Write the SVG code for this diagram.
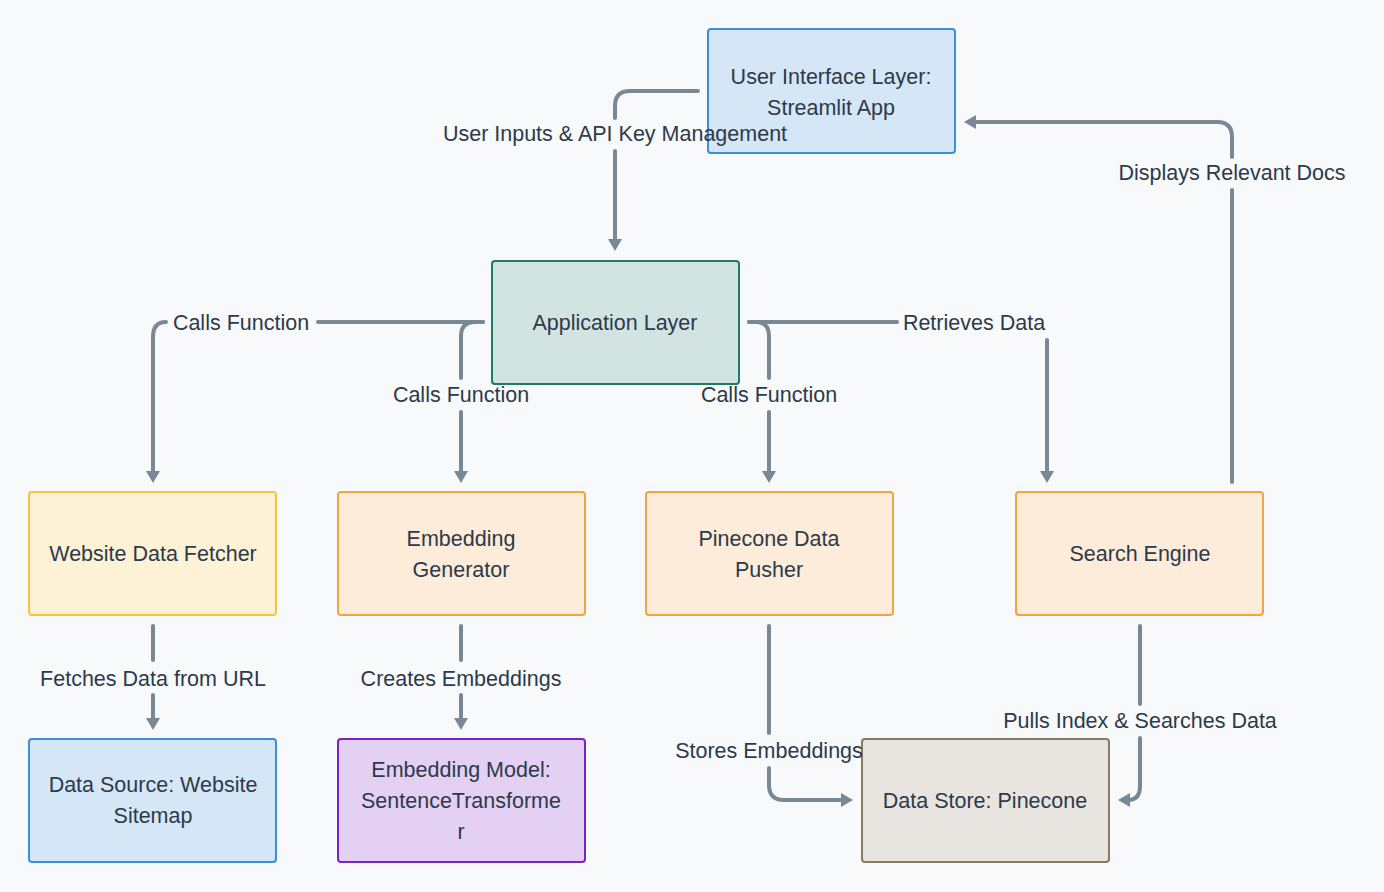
<svg xmlns="http://www.w3.org/2000/svg" width="1384" height="892" viewBox="0 0 1384 892">
<defs>
<marker id="arr" markerUnits="userSpaceOnUse" markerWidth="14" markerHeight="14" viewBox="0 0 12 14" refX="4" refY="7" orient="auto">
<path d="M0,0 L12,7 L0,14 z" fill="#7a8896"/>
</marker>
<style>
.e{fill:none;stroke:#7a8896;stroke-width:4;stroke-linecap:round;stroke-linejoin:round}
.n rect{stroke-width:2}
text{font-family:"Liberation Sans",Arial,sans-serif;font-size:21.5px;fill:#2d3a4a;text-anchor:middle;dominant-baseline:central}
.blue rect{fill:#d5e6f6;stroke:#3a8edb}
.teal rect{fill:#d1e4e2;stroke:#1f7a66}
.yel rect{fill:#fdf2d5;stroke:#f5c540}
.ora rect{fill:#fdecd9;stroke:#f0a545}
.pur rect{fill:#e3d0f3;stroke:#7a22c8}
.gry rect{fill:#e8e4df;stroke:#8a7a5e}
</style>
</defs>
<rect width="1384" height="892" fill="#f8f9fa"/>
<g id="ui" class="n blue"><rect x="708" y="29" width="247" height="124" rx="3"/><text x="831" y="77">User Interface Layer:</text><text x="831" y="108">Streamlit App</text></g>
<g id="app" class="n teal"><rect x="492" y="261" width="247" height="123" rx="3"/><text x="615" y="323">Application Layer</text></g>
<g id="fetcher" class="n yel"><rect x="29" y="492" width="247" height="123" rx="3"/><text x="153" y="554">Website Data Fetcher</text></g>
<g id="embgen" class="n ora"><rect x="338" y="492" width="247" height="123" rx="3"/><text x="461" y="539">Embedding</text><text x="461" y="570">Generator</text></g>
<g id="pusher" class="n ora"><rect x="646" y="492" width="247" height="123" rx="3"/><text x="769" y="539">Pinecone Data</text><text x="769" y="570">Pusher</text></g>
<g id="search" class="n ora"><rect x="1016" y="492" width="247" height="123" rx="3"/><text x="1140" y="554">Search Engine</text></g>
<g id="source" class="n blue"><rect x="29" y="739" width="247" height="123" rx="3"/><text x="153" y="785">Data Source: Website</text><text x="153" y="816">Sitemap</text></g>
<g id="model" class="n pur"><rect x="338" y="739" width="247" height="123" rx="3"/><text x="461" y="770">Embedding Model:</text><text x="461" y="801">SentenceTransforme</text><text x="461" y="832">r</text></g>
<g id="store" class="n gry"><rect x="862" y="739" width="247" height="123" rx="3"/><text x="985" y="801">Data Store: Pinecone</text></g>
<g id="connectors">
<path class="e" d="M698,91 H630 Q615,91 615,106 V118"/>
<path class="e" d="M615,151 V243" marker-end="url(#arr)"/>
<path class="e" d="M483,322 H318"/>
<path class="e" d="M166,322 Q153,322 153,337 V475" marker-end="url(#arr)"/>
<path class="e" d="M483,322 H475 Q461,322 461,336 V378"/>
<path class="e" d="M461,412 V475" marker-end="url(#arr)"/>
<path class="e" d="M749,322 H756 Q769,322 769,336 V378"/>
<path class="e" d="M769,412 V475" marker-end="url(#arr)"/>
<path class="e" d="M749,322 H897"/>
<path class="e" d="M1047,340 V475" marker-end="url(#arr)"/>
<path class="e" d="M1232,482 V190"/>
<path class="e" d="M1232,157 V137 Q1232,122 1217,122 H972" marker-end="url(#arr)"/>
<path class="e" d="M153,626 V660"/>
<path class="e" d="M153,695 V722" marker-end="url(#arr)"/>
<path class="e" d="M461,626 V660"/>
<path class="e" d="M461,695 V722" marker-end="url(#arr)"/>
<path class="e" d="M769,626 V733"/>
<path class="e" d="M769,768 V785 Q769,800 784,800 H845" marker-end="url(#arr)"/>
<path class="e" d="M1140,626 V704"/>
<path class="e" d="M1140,738 V786 Q1140,800 1128,800 H1126" marker-end="url(#arr)"/>
<text x="615" y="134">User Inputs &amp; API Key Management</text>
<text x="241" y="323">Calls Function</text>
<text x="461" y="395">Calls Function</text>
<text x="769" y="395">Calls Function</text>
<text x="974" y="323">Retrieves Data</text>
<text x="1232" y="173">Displays Relevant Docs</text>
<text x="153" y="679">Fetches Data from URL</text>
<text x="461" y="679">Creates Embeddings</text>
<text x="769" y="751">Stores Embeddings</text>
<text x="1140" y="721">Pulls Index &amp; Searches Data</text>
</g>
</svg>
